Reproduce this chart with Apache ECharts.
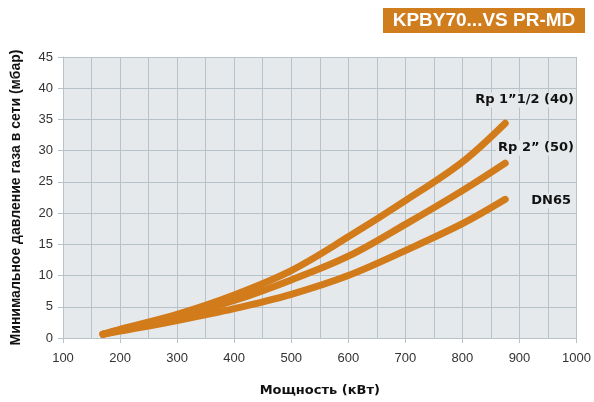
<!DOCTYPE html>
<html>
<head>
<meta charset="utf-8">
<script src="https://cdn.jsdelivr.net/npm/echarts@6/dist/echarts.min.js"></script>
<style>
    html, body { margin: 0; padding: 0; background: #fff; }
    #chart { width: 594px; height: 402px; }
</style>
</head>
<body>
<div id="chart"></div>
<script>
// power, kW
const power = [170, 200, 300, 400, 500, 600, 700, 800, 875];
// minimum gas pressure, mbar
const rp40 = [0.6, 1.4, 3.8, 6.9, 10.8, 16.2, 22.0, 28.2, 34.4];
const rp50 = [0.6, 1.3, 3.4, 6.0, 9.3, 13.1, 18.2, 23.6, 28.0];
const dn65 = [0.6, 1.1, 2.8, 4.7, 7.0, 10.0, 14.0, 18.3, 22.2];
const seriesNames = ['Rp 1\u201d1/2 (40)', 'Rp 2\u201d (50)', 'DN65'];

const orange = '#d27b1a';
const gridColor = '#b7c2c9';
const plotBg = '#e5e9eb';

function pairs(ys) {
    return power.map((x, i) => [x, ys[i]]);
}

function curve(name, ys) {
    return {
        name: name,
        type: 'line',
        smooth: 0.35,
        showSymbol: false,
        data: pairs(ys),
        lineStyle: { color: orange, width: 7, cap: 'round' }
    };
}

function seriesLabel(text, x, y) {
    return {
        type: 'text', x: x, y: y, z: 100,
        style: {
            text: text, fill: '#111',
            font: 'bold 13px "DejaVu Sans"',
            align: 'right', verticalAlign: 'middle',
            backgroundColor: plotBg, padding: [1, 2]
        }
    };
}

const chart = echarts.init(document.getElementById('chart'));
chart.setOption({
    animation: false,
    textStyle: { fontFamily: 'Liberation Sans' },
    grid: {
        left: 63, right: 15, top: 57, bottom: 63,
        show: true, backgroundColor: plotBg, borderWidth: 0
    },
    xAxis: {
        type: 'value',
        min: 100, max: 1000, interval: 100,
        name: 'Мощность (кВт)',
        nameLocation: 'middle',
        nameGap: 46,
        nameTextStyle: { fontSize: 13, fontWeight: 'bold', color: '#111', fontFamily: 'DejaVu Sans' },
        axisLine: { show: true, lineStyle: { color: gridColor } },
        axisTick: { show: true, length: 5, lineStyle: { color: gridColor } },
        axisLabel: { fontSize: 13, color: '#333', margin: 14, formatter: v => String(v) },
        splitLine: { show: true, lineStyle: { color: gridColor, width: 1 } },
        minorTick: { show: false, splitNumber: 2 },
        minorSplitLine: { show: true, lineStyle: { color: gridColor, width: 1 } }
    },
    yAxis: {
        type: 'value',
        min: 0, max: 45, interval: 5,
        name: 'Минимальное давление газа в сети (мбар)',
        nameLocation: 'middle',
        nameGap: 40,
        nameTextStyle: { fontSize: 14, fontWeight: 'bold', color: '#111' },
        axisLine: { show: true, lineStyle: { color: gridColor } },
        axisTick: { show: true, length: 5, lineStyle: { color: gridColor } },
        axisLabel: { fontSize: 13, color: '#333', margin: 10 },
        splitLine: { show: true, lineStyle: { color: gridColor, width: 1 } }
    },
    graphic: [
        {
            type: 'rect',
            shape: { x: 383, y: 8, width: 202, height: 25 },
            style: { fill: '#d07d1e' }
        },
        {
            type: 'text',
            x: 484, y: 21,
            style: {
                text: 'KPBY70...VS PR-MD', fill: '#fff',
                font: 'bold 19px "Liberation Sans"',
                align: 'center', verticalAlign: 'middle'
            }
        },
        seriesLabel(seriesNames[0], 576, 100),
        seriesLabel(seriesNames[1], 576, 148),
        seriesLabel(seriesNames[2], 573, 201)
    ],
    series: [
        curve(seriesNames[2], dn65),
        curve(seriesNames[1], rp50),
        curve(seriesNames[0], rp40)
    ]
});
</script>
</body>
</html>
